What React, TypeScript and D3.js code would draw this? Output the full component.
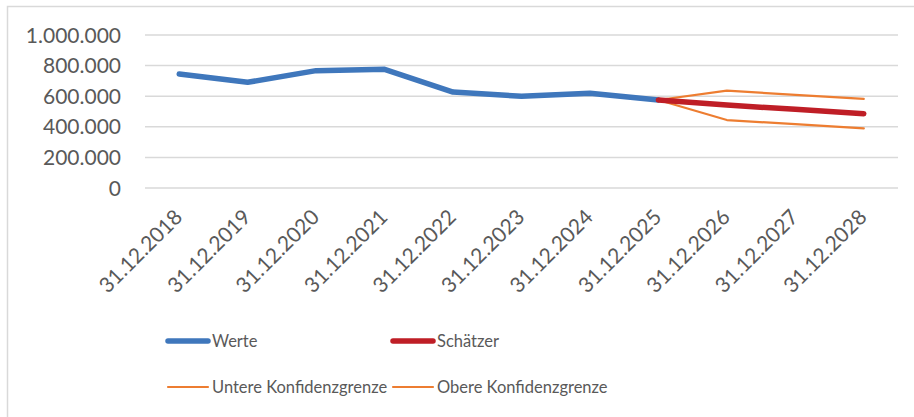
import { useEffect, useRef } from "react";
import * as d3 from "d3";

const categories = [
  "31.12.2018",
  "31.12.2019",
  "31.12.2020",
  "31.12.2021",
  "31.12.2022",
  "31.12.2023",
  "31.12.2024",
  "31.12.2025",
  "31.12.2026",
  "31.12.2027",
  "31.12.2028",
];

// null = no value for that date
const werte = [745000, 691000, 767000, 776000, 627000, 600000, 619000, 575000, null, null, null];
const schaetzer = [null, null, null, null, null, null, null, 575000, 542000, 514000, 486000];
const untere = [null, null, null, null, null, null, null, 575000, 444000, 417000, 390000];
const obere = [null, null, null, null, null, null, null, 575000, 636000, 609000, 582000];

const yTicks = [0, 200000, 400000, 600000, 800000, 1000000];

const series = [
  { name: "Werte", values: werte, color: "#3F77BC", width: 5.5 },
  { name: "Schätzer", values: schaetzer, color: "#BF1E26", width: 5.5 },
  { name: "Untere Konfidenzgrenze", values: untere, color: "#ED7D31", width: 2.2 },
  { name: "Obere Konfidenzgrenze", values: obere, color: "#ED7D31", width: 2.2 },
];

const FONT = "Lato, sans-serif";
const TEXT = "#595959";

const App = () => {
  const svgRef = useRef(null);

  useEffect(() => {
    const svg = d3.select(svgRef.current);
    svg.selectAll("*").remove();

    const width = 914;
    const height = 417;
    const plot = { left: 145, right: 898, top: 35, bottom: 188 };

    // chart area border (top + left visible)
    svg
      .append("path")
      .attr("d", `M7.5,${height} L7.5,6.5 L${width},6.5`)
      .attr("fill", "none")
      .attr("stroke", "#d9d9d9")
      .attr("stroke-width", 1.5);

    const x = d3
      .scaleBand()
      .domain(categories)
      .range([plot.left, plot.right]);

    const y = d3
      .scaleLinear()
      .domain([0, 1000000])
      .range([plot.bottom, plot.top]);

    const fmt = (v) => d3.format(",")(v).replace(/,/g, ".");

    // grid
    svg
      .append("g")
      .selectAll("line")
      .data(yTicks)
      .join("line")
      .attr("x1", plot.left)
      .attr("x2", plot.right)
      .attr("y1", (d) => y(d))
      .attr("y2", (d) => y(d))
      .attr("stroke", "#d9d9d9")
      .attr("stroke-width", 1.5);

    // y labels
    svg
      .append("g")
      .selectAll("text")
      .data(yTicks)
      .join("text")
      .attr("x", 121)
      .attr("y", (d) => y(d))
      .attr("dy", "0.36em")
      .attr("text-anchor", "end")
      .attr("font-family", FONT)
      .attr("font-size", 21)
      .attr("fill", TEXT)
      .text((d) => fmt(d));

    // x labels rotated
    svg
      .append("g")
      .selectAll("text")
      .data(categories)
      .join("text")
      .attr("text-anchor", "end")
      .attr(
        "transform",
        (d) => `translate(${x(d) + x.bandwidth() / 2 - 6},${plot.bottom + 20}) rotate(-45)`
      )
      .attr("dy", "0.7em")
      .attr("font-family", FONT)
      .attr("font-size", 21)
      .attr("fill", TEXT)
      .text((d) => d);

    const cx = (i) => x(categories[i]) + x.bandwidth() / 2;

    const line = d3
      .line()
      .defined((d) => d != null)
      .x((d, i) => cx(i))
      .y((d) => y(d));

    const order = [series[2], series[3], series[0], series[1]];
    svg
      .append("g")
      .selectAll("path")
      .data(order)
      .join("path")
      .attr("d", (s) => line(s.values))
      .attr("fill", "none")
      .attr("stroke", (s) => s.color)
      .attr("stroke-width", (s) => s.width)
      .attr("stroke-linejoin", "round")
      .attr("stroke-linecap", "round");

    // legend
    const legendPos = [
      { x: 168, y: 341 },
      { x: 393, y: 341 },
      { x: 168, y: 387 },
      { x: 393, y: 387 },
    ];
    const lg = svg
      .append("g")
      .selectAll("g")
      .data(series)
      .join("g")
      .attr("transform", (d, i) => `translate(${legendPos[i].x},${legendPos[i].y})`);

    lg.append("line")
      .attr("x1", 0)
      .attr("x2", 40)
      .attr("stroke", (d) => d.color)
      .attr("stroke-width", (d) => d.width)
      .attr("stroke-linecap", "round");

    lg.append("text")
      .attr("x", 44)
      .attr("dy", "0.36em")
      .attr("font-family", FONT)
      .attr("font-size", 16.5)
      .attr("fill", TEXT)
      .text((d) => d.name);
  }, []);

  return (
    <svg
      ref={svgRef}
      width={914}
      height={417}
      style={{ position: "absolute", left: 0, top: 0, background: "#fff" }}
    />
  );
};

export default App;
